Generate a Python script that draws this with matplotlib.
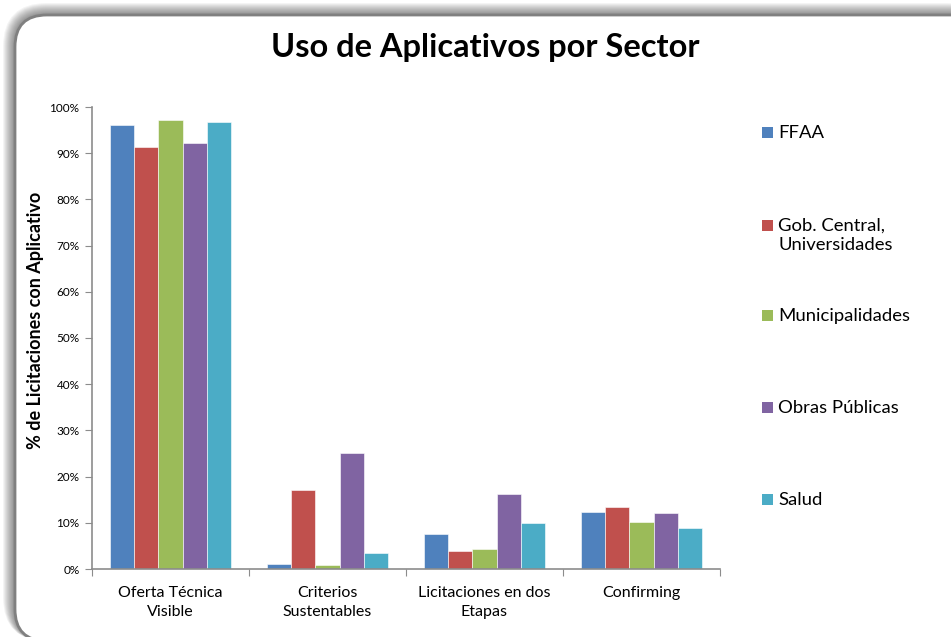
import matplotlib
matplotlib.use("Agg")
import matplotlib.pyplot as plt
import numpy as np
from matplotlib.patches import FancyBboxPatch, Rectangle
from matplotlib.ticker import FuncFormatter, MultipleLocator

plt.rcParams['font.family'] = ['Lato', 'DejaVu Sans']

categories = ["Oferta Técnica\nVisible", "Criterios\nSustentables", "Licitaciones en dos\nEtapas", "Confirming"]
series_names = ["FFAA", "Gob. Central,\nUniversidades", "Municipalidades", "Obras Públicas", "Salud"]
ffaa = [96.1, 1.1, 7.6, 12.3]
gob_central = [91.3, 17.1, 4.0, 13.4]
municipalidades = [97.2, 0.8, 4.3, 10.2]
obras_publicas = [92.2, 25.2, 16.2, 12.2]
salud = [96.8, 3.4, 9.9, 8.8]
values = [ffaa, gob_central, municipalidades, obras_publicas, salud]
colors = ["#4F81BD", "#C0504D", "#9BBB59", "#8064A2", "#4BACC6"]

W, H = 951, 637
fig = plt.figure(figsize=(W/100, H/100), dpi=100)

# background frame with shadow, in pixel coordinates
bg = fig.add_axes([0, 0, 1, 1])
bg.set_xlim(0, W)
bg.set_ylim(H, 0)
bg.axis('off')
bg.set_zorder(0)
fw, fh = 975, 626
for k in range(12, 0, -1):
    sh = FancyBboxPatch((15 - k, 15 - k), fw + k, fh + k,
                        boxstyle=f"round,pad=0,rounding_size={32 + k}",
                        facecolor="black", edgecolor="none", alpha=0.045)
    bg.add_patch(sh)
frame = FancyBboxPatch((15, 15), fw, fh,
                       boxstyle="round,pad=0,rounding_size=32",
                       facecolor="white", edgecolor="#808080", linewidth=2)
bg.add_patch(frame)

ax = fig.add_axes([92/W, 1-569/H, (722-94)/W, (569-107)/H])
ax.set_zorder(2)
ax.patch.set_alpha(0)

n = len(values)
group_w = 0.77
bw = group_w / n
x = np.arange(len(categories))
for i, (vals, c, name) in enumerate(zip(values, colors, series_names)):
    ax.bar(x - group_w/2 + bw*(i+0.5), vals, width=bw, color=c,
           edgecolor="white", linewidth=0.4, label=name)

ax.set_xlim(-0.5, len(categories)-0.5)
ax.set_ylim(0, 100)
ax.yaxis.set_major_locator(MultipleLocator(10))
ax.yaxis.set_major_formatter(FuncFormatter(lambda v, p: f"{int(round(v))}%"))
ax.set_xticks(np.arange(-0.5, len(categories), 1.0), minor=False)
ax.set_xticklabels([])
ax.set_xticks(x, minor=True)
ax.set_xticklabels(categories, minor=True, fontsize=11.5, linespacing=1.45)
ax.tick_params(axis='x', which='minor', length=0, pad=12)
ax.tick_params(axis='x', which='major', length=5, color="#8c8c8c", direction='out')
ax.tick_params(axis='y', length=5, color="#8c8c8c", direction='out', labelsize=8.5, pad=4)
for s in ['top', 'right']:
    ax.spines[s].set_visible(False)
for s in ['left', 'bottom']:
    ax.spines[s].set_color("#8c8c8c")
    ax.spines[s].set_linewidth(1.2)

ax.set_ylabel("% de Licitaciones con Aplicativo", fontsize=13, fontweight='bold')
ax.yaxis.set_label_coords(-0.077, (569 - 320) / 462)

fig.text(485/W, 1-48/H, "Uso de Aplicativos por Sector", ha='center', va='center',
         fontsize=23.5, fontweight='bold', zorder=3)

# legend (manual placement to mimic the spread-out legend)
leg_y = [132, 225, 315, 407, 499]
for name, c, y in zip(series_names, colors, leg_y):
    bg.add_patch(Rectangle((762, y - 5.5), 11, 11, facecolor=c, edgecolor="none", zorder=3))
    bg.text(778, y - 7, name, ha='left', va='top', fontsize=13.3,
            linespacing=1.25, zorder=3, color="black")

fig.savefig("out.png", dpi=100)
